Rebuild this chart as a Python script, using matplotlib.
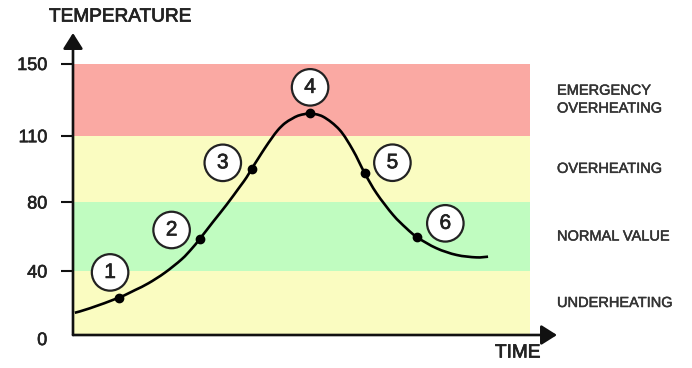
import numpy as np
import matplotlib
matplotlib.use("Agg")
import matplotlib.pyplot as plt
import matplotlib.patheffects as pe
from matplotlib.path import Path
from matplotlib.patches import PathPatch
from matplotlib.transforms import IdentityTransform

plt.rcParams["font.family"] = ["Liberation Sans", "DejaVu Sans"]

# temperature curve (time in arbitrary units 0-100)
time = [0.4, 3.7, 10.1, 13.6, 16.5, 20.1, 23.8, 26.0, 27.8, 30.7, 33.6, 36.5,
        38.0, 39.1, 40.6, 42.0, 43.5, 44.9, 46.4, 47.9, 49.3, 50.8, 51.8,
        54.8, 58.4, 61.3, 63.9, 66.5, 70.1, 73.0, 75.4, 79.6, 84.0, 88.3,
        90.9]
temperature = [13.9, 16.7, 23.4, 28.1, 32.3, 38.9, 46.8, 52.9, 58.7, 68.6, 78.3,
               86.8, 91.1, 94.9, 99.8, 104.3, 108.8, 113.2, 116.9, 119.3, 121.1,
               122.0, 122.4, 120.5, 113.2, 103.5, 93.0, 83.9, 72.5, 64.8, 59.5,
               53.2, 49.3, 47.9, 48.3]

# numbered stages
stage_time = [10.1, 27.8, 39.1, 51.8, 63.9, 75.4]
stage_temp = [23.4, 58.7, 94.9, 122.4, 93.0, 59.5]
stage_labels = ["1", "2", "3", "4", "5", "6"]

# zones
zone_bounds = [0, 40, 80, 110, 150]
zone_names = ["UNDERHEATING", "NORMAL VALUE", "OVERHEATING", "EMERGENCY\nOVERHEATING"]
zone_colors = ["#fafcc1", "#c0fcc0", "#fafcc1", "#faa9a3"]

y_ticks = [40, 80, 110, 150]

# uneven temperature axis: each zone gets roughly the same height
SCALE_T = [0, 40, 80, 110, 150, 190]
SCALE_H = [0, 64, 133, 199.3, 271.5, 343.7]


def fwd(t):
    return np.interp(t, SCALE_T, SCALE_H)


def inv(h):
    return np.interp(h, SCALE_H, SCALE_T)


def heavy(lw=0.5, c="#222222"):
    # fake a medium font weight
    return [pe.withStroke(linewidth=lw, foreground=c)]


fig = plt.figure(figsize=(6.92, 3.68), dpi=100)
ax = fig.add_axes([73 / 692, 33 / 368, 484 / 692, 302 / 368])
ax.set_yscale("function", functions=(fwd, inv))
ax.set_xlim(0, 106)
ax.set_ylim(0, 166.9)

for lo, hi, c in zip(zone_bounds[:-1], zone_bounds[1:], zone_colors):
    ax.fill_between([0, 100], lo, hi, color=c, lw=0, zorder=0)

for lo, hi, name in zip(zone_bounds[:-1], zone_bounds[1:], zone_names):
    ax.text(1.0, (lo + hi) / 2, name, transform=ax.get_yaxis_transform(),
            ha="left", va="center", fontsize=10.5, color="#333333",
            linespacing=1.35, path_effects=heavy(0.35, "#333333"))

# smooth curve through the read points (Catmull-Rom drawn in display space)
P = ax.transData.transform(np.column_stack([time, temperature]))
verts = [P[0]]
codes = [Path.MOVETO]
for i in range(len(P) - 1):
    p0 = P[max(i - 1, 0)]
    p3 = P[min(i + 2, len(P) - 1)]
    c1 = P[i] + (P[i + 1] - p0) / 6
    c2 = P[i + 1] - (p3 - P[i]) / 6
    verts += [c1, c2, P[i + 1]]
    codes += [Path.CURVE4] * 3
ax.add_patch(PathPatch(Path(verts, codes), transform=IdentityTransform(),
                       fc="none", ec="black", lw=1.9, zorder=3))

ax.plot(stage_time, stage_temp, "o", color="black", ms=6, zorder=4)

offsets = [(-6.5, 18.1), (-20.4, 6.3), (-20.7, 4.5), (0.4, 18.7),
           (19.9, 7.6), (20.2, 10.1)]
for x, y, lab, off in zip(stage_time, stage_temp, stage_labels, offsets):
    ax.annotate(lab, (x, y), xytext=off, textcoords="offset points",
                ha="center", va="center", fontsize=15, color="#222222",
                bbox=dict(boxstyle="circle,pad=0.42", fc="white",
                          ec="#222222", lw=1.6), zorder=5,
                path_effects=heavy(0.5))

# axes drawn as arrows
for s in ax.spines.values():
    s.set_visible(False)
arrow = dict(arrowstyle="-|>,head_length=0.95,head_width=0.6",
             color="#111111", lw=1.9, shrinkA=0, shrinkB=0,
             mutation_scale=10)
ax.annotate("", xy=(0, 1), xytext=(0, 0), xycoords="axes fraction",
            arrowprops=arrow, annotation_clip=False)
ax.annotate("", xy=(1, 0), xytext=(0, 0), xycoords="axes fraction",
            arrowprops=arrow, annotation_clip=False)

ax.set_xticks([])
ax.set_yticks(y_ticks)
ax.set_yticklabels([str(t) for t in y_ticks])
ax.yaxis.set_minor_locator(matplotlib.ticker.NullLocator())
ax.tick_params(axis="y", length=8.5, width=1.5, color="#111111", pad=10,
               labelsize=13, labelcolor="#222222")
for lab in ax.get_yticklabels():
    lab.set_path_effects(heavy(0.45))
ax.annotate("0", (0, 0), xytext=(-18.5, -4), textcoords="offset points",
            ha="right", va="center", fontsize=13, color="#222222",
            annotation_clip=False, path_effects=heavy(0.45))

fig.text(49 / 692, 1 - 17 / 368, "TEMPERATURE", ha="left", va="center",
         fontsize=13.7, color="#222222", path_effects=heavy(0.55))
fig.text(495 / 692, 1 - 353 / 368, "TIME", ha="left", va="center",
         fontsize=13.7, color="#222222", path_effects=heavy(0.55))

fig.savefig("out.png", dpi=100)
